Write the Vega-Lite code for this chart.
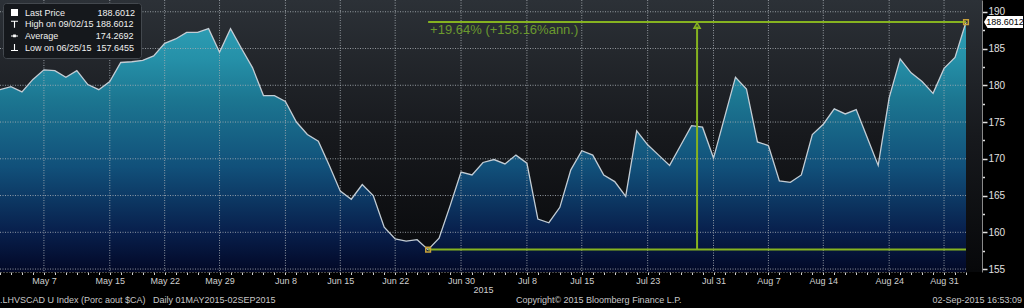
{
  "$schema": "https://vega.github.io/schema/vega-lite/v6.json",
  "width": 982,
  "height": 272,
  "autosize": {"type": "none"},
  "padding": {"left": 0, "top": 0, "right": 42, "bottom": 36},
  "background": "#000000",
  "config": {
    "view": {"stroke": null},
    "font": "Liberation Sans",
    "axisX": {
      "titleColor": "#cfcfcf", "titleFontSize": 9, "titleFontWeight": "normal", "titlePadding": 0,
      "labelAngle": 0, "labelColor": "#cfcfcf", "labelFontSize": 9, "labelPadding": 2,
      "labelOverlap": false, "labelBound": false,
      "tickSize": 2.5, "tickColor": "#d0d0d0",
      "domainColor": "#8a8a8a", "domainDash": [1, 2],
      "zindex": 1
    },
    "axisY": {
      "labelColor": "#e0e0e0", "labelFontSize": 10, "labelPadding": 1,
      "labelOverlap": false, "labelBound": false,
      "tickColor": "#e0e0e0", "tickWidth": 1.5,
      "domainColor": "#8a8a8a",
      "zindex": 1
    }
  },
  "datasets": {
    "px": [
      {"date": "2015-05-01", "price": 179.4},
      {"date": "2015-05-04", "price": 179.8},
      {"date": "2015-05-05", "price": 179.1},
      {"date": "2015-05-06", "price": 180.8},
      {"date": "2015-05-07", "price": 182.1},
      {"date": "2015-05-08", "price": 182.0},
      {"date": "2015-05-11", "price": 181.1},
      {"date": "2015-05-12", "price": 182.0},
      {"date": "2015-05-13", "price": 180.1},
      {"date": "2015-05-14", "price": 179.4},
      {"date": "2015-05-15", "price": 180.5},
      {"date": "2015-05-18", "price": 183.1},
      {"date": "2015-05-19", "price": 183.2},
      {"date": "2015-05-20", "price": 183.4},
      {"date": "2015-05-21", "price": 184.0},
      {"date": "2015-05-22", "price": 185.7},
      {"date": "2015-05-25", "price": 186.3},
      {"date": "2015-05-26", "price": 187.2},
      {"date": "2015-05-27", "price": 187.2},
      {"date": "2015-05-28", "price": 187.7},
      {"date": "2015-05-29", "price": 184.5},
      {"date": "2015-06-01", "price": 187.7},
      {"date": "2015-06-02", "price": 185.0},
      {"date": "2015-06-03", "price": 182.4},
      {"date": "2015-06-04", "price": 178.6},
      {"date": "2015-06-05", "price": 178.6},
      {"date": "2015-06-08", "price": 177.8},
      {"date": "2015-06-09", "price": 175.0},
      {"date": "2015-06-10", "price": 173.3},
      {"date": "2015-06-11", "price": 172.4},
      {"date": "2015-06-12", "price": 169.1},
      {"date": "2015-06-15", "price": 165.6},
      {"date": "2015-06-16", "price": 164.5},
      {"date": "2015-06-17", "price": 166.5},
      {"date": "2015-06-18", "price": 165.0},
      {"date": "2015-06-19", "price": 160.7},
      {"date": "2015-06-22", "price": 159.1},
      {"date": "2015-06-23", "price": 158.8},
      {"date": "2015-06-24", "price": 159.0},
      {"date": "2015-06-25", "price": 157.6455},
      {"date": "2015-06-26", "price": 159.2},
      {"date": "2015-06-29", "price": 163.6},
      {"date": "2015-06-30", "price": 168.2},
      {"date": "2015-07-01", "price": 167.8},
      {"date": "2015-07-02", "price": 169.5},
      {"date": "2015-07-03", "price": 169.9},
      {"date": "2015-07-06", "price": 169.3},
      {"date": "2015-07-07", "price": 170.5},
      {"date": "2015-07-08", "price": 169.4},
      {"date": "2015-07-09", "price": 161.8},
      {"date": "2015-07-10", "price": 161.3},
      {"date": "2015-07-13", "price": 163.4},
      {"date": "2015-07-14", "price": 168.5},
      {"date": "2015-07-15", "price": 171.1},
      {"date": "2015-07-16", "price": 170.5},
      {"date": "2015-07-17", "price": 167.8},
      {"date": "2015-07-20", "price": 166.9},
      {"date": "2015-07-21", "price": 164.9},
      {"date": "2015-07-22", "price": 173.8},
      {"date": "2015-07-23", "price": 171.9},
      {"date": "2015-07-24", "price": 170.5},
      {"date": "2015-07-27", "price": 169.1},
      {"date": "2015-07-28", "price": 171.8},
      {"date": "2015-07-29", "price": 174.5},
      {"date": "2015-07-30", "price": 174.3},
      {"date": "2015-07-31", "price": 170.1},
      {"date": "2015-08-03", "price": 175.6},
      {"date": "2015-08-04", "price": 181.1},
      {"date": "2015-08-05", "price": 179.5},
      {"date": "2015-08-06", "price": 172.3},
      {"date": "2015-08-07", "price": 171.8},
      {"date": "2015-08-10", "price": 167.0},
      {"date": "2015-08-11", "price": 166.8},
      {"date": "2015-08-12", "price": 167.8},
      {"date": "2015-08-13", "price": 173.3},
      {"date": "2015-08-14", "price": 174.7},
      {"date": "2015-08-17", "price": 176.8},
      {"date": "2015-08-18", "price": 176.1},
      {"date": "2015-08-19", "price": 176.7},
      {"date": "2015-08-20", "price": 172.9},
      {"date": "2015-08-21", "price": 169.1},
      {"date": "2015-08-24", "price": 178.3},
      {"date": "2015-08-25", "price": 183.6},
      {"date": "2015-08-26", "price": 181.7},
      {"date": "2015-08-27", "price": 180.5},
      {"date": "2015-08-28", "price": 178.9},
      {"date": "2015-08-31", "price": 182.3},
      {"date": "2015-09-01", "price": 183.8},
      {"date": "2015-09-02", "price": 188.6012}
    ],
    "stats": [
      {"stat": "Last Price\u00a0\u00a0\u00a0\u00a0\u00a0\u00a0\u00a0\u00a0\u00a0\u00a0\u00a0\u00a0\u00a0188.6012"},
      {"stat": "High on 09/02/15\u00a0188.6012"},
      {"stat": "Average\u00a0\u00a0\u00a0\u00a0\u00a0\u00a0\u00a0\u00a0\u00a0\u00a0\u00a0\u00a0\u00a0\u00a0\u00a0174.2692"},
      {"stat": "Low on 06/25/15\u00a0\u00a0157.6455"}
    ],
    "xgrid": [
      {"date": "2015-05-07"}, {"date": "2015-05-15"}, {"date": "2015-05-22"}, {"date": "2015-05-29"},
      {"date": "2015-06-08"}, {"date": "2015-06-15"}, {"date": "2015-06-22"}, {"date": "2015-06-30"},
      {"date": "2015-07-08"}, {"date": "2015-07-15"}, {"date": "2015-07-23"}, {"date": "2015-07-31"},
      {"date": "2015-08-07"}, {"date": "2015-08-14"}, {"date": "2015-08-24"}, {"date": "2015-08-31"}
    ],
    "ygrid": [
      {"price": 155}, {"price": 160}, {"price": 165}, {"price": 170},
      {"price": 175}, {"price": 180}, {"price": 185}, {"price": 190}
    ],
    "levels": [
      {"date": "2015-06-25", "end": "2015-09-02", "price": 188.6012},
      {"date": "2015-06-25", "end": "2015-09-02", "price": 157.6455}
    ],
    "marks": [
      {"date": "2015-06-25", "price": 157.6455},
      {"date": "2015-09-02", "price": 188.6012}
    ],
    "last": [
      {"date": "2015-09-02", "price": 188.6012}
    ]
  },
  "layer": [
    {
      "data": {"values": [{}]},
      "mark": {
        "type": "rect",
        "fill": {
          "gradient": "linear", "x1": 0, "y1": 0, "x2": 0, "y2": 1,
          "stops": [
            {"offset": 0, "color": "#2c3137"},
            {"offset": 0.5, "color": "#17191d"},
            {"offset": 1, "color": "#07080a"}
          ]
        }
      },
      "encoding": {}
    },
    {
      "data": {"name": "px"},
      "mark": {
        "type": "area",
        "fill": {
          "gradient": "linear", "x1": 0, "y1": 0, "x2": 0, "y2": 1,
          "stops": [
            {"offset": 0, "color": "#2e9fb5"},
            {"offset": 0.15, "color": "#2590a8"},
            {"offset": 0.31, "color": "#1c7691"},
            {"offset": 0.58, "color": "#11507a"},
            {"offset": 0.84, "color": "#081f4c"},
            {"offset": 1, "color": "#020826"}
          ]
        }
      },
      "encoding": {
        "x": {
          "field": "date", "type": "ordinal",
          "scale": {"type": "point", "range": [0, 966], "padding": 0},
          "axis": {"title": "2015", "titleX": 483, "grid": false, "labelExpr": "indexof(['2015-05-07','2015-05-15','2015-05-22','2015-05-29','2015-06-08','2015-06-15','2015-06-22','2015-06-30','2015-07-08','2015-07-15','2015-07-23','2015-07-31','2015-08-07','2015-08-14','2015-08-24','2015-08-31'], datum.value) >= 0 ? utcFormat(toDate(datum.value), '%b %-d') : ''"}
        },
        "y": {
          "field": "price", "type": "quantitative",
          "scale": {"domain": [154.6, 191.6], "zero": false, "nice": false},
          "axis": {"orient": "right", "title": null, "grid": false, "values": [155, 157.5, 160, 162.5, 165, 167.5, 170, 172.5, 175, 177.5, 180, 182.5, 185, 187.5, 190], "labelExpr": "datum.value % 5 === 0 ? format(datum.value, 'd') : ''", "tickSize": {"condition": {"test": "datum.value % 5 === 0", "value": 5}, "value": 2.5}}
        },
        "y2": {"datum": 154.6}
      }
    },
    {
      "data": {"name": "xgrid"},
      "mark": {"type": "rule", "stroke": "#a8aeb4", "strokeOpacity": 0.85, "strokeDash": [1, 1.5], "strokeWidth": 1},
      "encoding": {
        "x": {"field": "date", "type": "ordinal", "axis": {"title": "2015", "titleX": 483, "grid": false, "labelExpr": "indexof(['2015-05-07','2015-05-15','2015-05-22','2015-05-29','2015-06-08','2015-06-15','2015-06-22','2015-06-30','2015-07-08','2015-07-15','2015-07-23','2015-07-31','2015-08-07','2015-08-14','2015-08-24','2015-08-31'], datum.value) >= 0 ? utcFormat(toDate(datum.value), '%b %-d') : ''"}},
        "y": {"datum": 191.6, "type": "quantitative", "axis": {"orient": "right", "title": null, "grid": false, "values": [155, 157.5, 160, 162.5, 165, 167.5, 170, 172.5, 175, 177.5, 180, 182.5, 185, 187.5, 190], "labelExpr": "datum.value % 5 === 0 ? format(datum.value, 'd') : ''", "tickSize": {"condition": {"test": "datum.value % 5 === 0", "value": 5}, "value": 2.5}}},
        "y2": {"datum": 154.6}
      }
    },
    {
      "data": {"name": "ygrid"},
      "mark": {"type": "rule", "stroke": "#a8aeb4", "strokeOpacity": 0.85, "strokeDash": [1, 1.5], "strokeWidth": 1},
      "encoding": {
        "x": {"datum": "2015-05-01", "type": "ordinal", "axis": {"title": "2015", "titleX": 483, "grid": false, "labelExpr": "indexof(['2015-05-07','2015-05-15','2015-05-22','2015-05-29','2015-06-08','2015-06-15','2015-06-22','2015-06-30','2015-07-08','2015-07-15','2015-07-23','2015-07-31','2015-08-07','2015-08-14','2015-08-24','2015-08-31'], datum.value) >= 0 ? utcFormat(toDate(datum.value), '%b %-d') : ''"}},
        "x2": {"datum": "2015-09-02"},
        "y": {"field": "price", "type": "quantitative", "axis": {"orient": "right", "title": null, "grid": false, "values": [155, 157.5, 160, 162.5, 165, 167.5, 170, 172.5, 175, 177.5, 180, 182.5, 185, 187.5, 190], "labelExpr": "datum.value % 5 === 0 ? format(datum.value, 'd') : ''", "tickSize": {"condition": {"test": "datum.value % 5 === 0", "value": 5}, "value": 2.5}}}
      }
    },
    {
      "data": {"name": "px"},
      "mark": {"type": "line", "stroke": "#c3cdd5", "strokeWidth": 1.3},
      "encoding": {
        "x": {"field": "date", "type": "ordinal", "axis": {"title": "2015", "titleX": 483, "grid": false, "labelExpr": "indexof(['2015-05-07','2015-05-15','2015-05-22','2015-05-29','2015-06-08','2015-06-15','2015-06-22','2015-06-30','2015-07-08','2015-07-15','2015-07-23','2015-07-31','2015-08-07','2015-08-14','2015-08-24','2015-08-31'], datum.value) >= 0 ? utcFormat(toDate(datum.value), '%b %-d') : ''"}},
        "y": {"field": "price", "type": "quantitative", "axis": {"orient": "right", "title": null, "grid": false, "values": [155, 157.5, 160, 162.5, 165, 167.5, 170, 172.5, 175, 177.5, 180, 182.5, 185, 187.5, 190], "labelExpr": "datum.value % 5 === 0 ? format(datum.value, 'd') : ''", "tickSize": {"condition": {"test": "datum.value % 5 === 0", "value": 5}, "value": 2.5}}}
      }
    },
    {
      "data": {"name": "levels"},
      "mark": {"type": "rule", "stroke": "#86b320", "strokeWidth": 2},
      "encoding": {
        "x": {"field": "date", "type": "ordinal", "axis": {"title": "2015", "titleX": 483, "grid": false, "labelExpr": "indexof(['2015-05-07','2015-05-15','2015-05-22','2015-05-29','2015-06-08','2015-06-15','2015-06-22','2015-06-30','2015-07-08','2015-07-15','2015-07-23','2015-07-31','2015-08-07','2015-08-14','2015-08-24','2015-08-31'], datum.value) >= 0 ? utcFormat(toDate(datum.value), '%b %-d') : ''"}},
        "x2": {"field": "end"},
        "y": {"field": "price", "type": "quantitative", "axis": {"orient": "right", "title": null, "grid": false, "values": [155, 157.5, 160, 162.5, 165, 167.5, 170, 172.5, 175, 177.5, 180, 182.5, 185, 187.5, 190], "labelExpr": "datum.value % 5 === 0 ? format(datum.value, 'd') : ''", "tickSize": {"condition": {"test": "datum.value % 5 === 0", "value": 5}, "value": 2.5}}}
      }
    },
    {
      "data": {"values": [{}]},
      "mark": {"type": "rule", "stroke": "#86b320", "strokeWidth": 2, "xOffset": 5.5},
      "encoding": {
        "x": {"datum": "2015-07-29", "type": "ordinal", "axis": {"title": "2015", "titleX": 483, "grid": false, "labelExpr": "indexof(['2015-05-07','2015-05-15','2015-05-22','2015-05-29','2015-06-08','2015-06-15','2015-06-22','2015-06-30','2015-07-08','2015-07-15','2015-07-23','2015-07-31','2015-08-07','2015-08-14','2015-08-24','2015-08-31'], datum.value) >= 0 ? utcFormat(toDate(datum.value), '%b %-d') : ''"}},
        "y": {"datum": 157.6455, "type": "quantitative", "axis": {"orient": "right", "title": null, "grid": false, "values": [155, 157.5, 160, 162.5, 165, 167.5, 170, 172.5, 175, 177.5, 180, 182.5, 185, 187.5, 190], "labelExpr": "datum.value % 5 === 0 ? format(datum.value, 'd') : ''", "tickSize": {"condition": {"test": "datum.value % 5 === 0", "value": 5}, "value": 2.5}}},
        "y2": {"datum": 188.0}
      }
    },
    {
      "data": {"values": [{}]},
      "mark": {"type": "point", "shape": "triangle-up", "filled": false, "stroke": "#86b320", "strokeWidth": 1.6, "size": 36, "xOffset": 5.5, "opacity": 1},
      "encoding": {
        "x": {"datum": "2015-07-29", "type": "ordinal", "axis": {"title": "2015", "titleX": 483, "grid": false, "labelExpr": "indexof(['2015-05-07','2015-05-15','2015-05-22','2015-05-29','2015-06-08','2015-06-15','2015-06-22','2015-06-30','2015-07-08','2015-07-15','2015-07-23','2015-07-31','2015-08-07','2015-08-14','2015-08-24','2015-08-31'], datum.value) >= 0 ? utcFormat(toDate(datum.value), '%b %-d') : ''"}},
        "y": {"datum": 188.13, "type": "quantitative", "axis": {"orient": "right", "title": null, "grid": false, "values": [155, 157.5, 160, 162.5, 165, 167.5, 170, 172.5, 175, 177.5, 180, 182.5, 185, 187.5, 190], "labelExpr": "datum.value % 5 === 0 ? format(datum.value, 'd') : ''", "tickSize": {"condition": {"test": "datum.value % 5 === 0", "value": 5}, "value": 2.5}}}
      }
    },
    {
      "data": {"name": "marks"},
      "mark": {"type": "point", "shape": "square", "filled": false, "stroke": "#c9a23b", "strokeWidth": 1.5, "size": 22, "opacity": 1},
      "encoding": {
        "x": {"field": "date", "type": "ordinal", "axis": {"title": "2015", "titleX": 483, "grid": false, "labelExpr": "indexof(['2015-05-07','2015-05-15','2015-05-22','2015-05-29','2015-06-08','2015-06-15','2015-06-22','2015-06-30','2015-07-08','2015-07-15','2015-07-23','2015-07-31','2015-08-07','2015-08-14','2015-08-24','2015-08-31'], datum.value) >= 0 ? utcFormat(toDate(datum.value), '%b %-d') : ''"}},
        "y": {"field": "price", "type": "quantitative", "axis": {"orient": "right", "title": null, "grid": false, "values": [155, 157.5, 160, 162.5, 165, 167.5, 170, 172.5, 175, 177.5, 180, 182.5, 185, 187.5, 190], "labelExpr": "datum.value % 5 === 0 ? format(datum.value, 'd') : ''", "tickSize": {"condition": {"test": "datum.value % 5 === 0", "value": 5}, "value": 2.5}}}
      }
    },
    {
      "data": {"values": [{}]},
      "mark": {"type": "text", "text": "+19.64% (+158.16%ann.)", "align": "left", "baseline": "middle", "dx": 2, "fontSize": 13, "color": "#6b9a2e"},
      "encoding": {
        "x": {"datum": "2015-06-25", "type": "ordinal", "axis": {"title": "2015", "titleX": 483, "grid": false, "labelExpr": "indexof(['2015-05-07','2015-05-15','2015-05-22','2015-05-29','2015-06-08','2015-06-15','2015-06-22','2015-06-30','2015-07-08','2015-07-15','2015-07-23','2015-07-31','2015-08-07','2015-08-14','2015-08-24','2015-08-31'], datum.value) >= 0 ? utcFormat(toDate(datum.value), '%b %-d') : ''"}},
        "y": {"datum": 187.5, "type": "quantitative", "axis": {"orient": "right", "title": null, "grid": false, "values": [155, 157.5, 160, 162.5, 165, 167.5, 170, 172.5, 175, 177.5, 180, 182.5, 185, 187.5, 190], "labelExpr": "datum.value % 5 === 0 ? format(datum.value, 'd') : ''", "tickSize": {"condition": {"test": "datum.value % 5 === 0", "value": 5}, "value": 2.5}}}
      }
    },
    {
      "data": {"name": "last"},
      "mark": {"type": "point", "shape": "M-1,0L-0.82,-0.31H1V0.31H-0.82Z", "filled": true, "fill": "#ffffff", "size": 1521, "xOffset": 37.5, "opacity": 1},
      "encoding": {
        "x": {"field": "date", "type": "ordinal", "axis": {"title": "2015", "titleX": 483, "grid": false, "labelExpr": "indexof(['2015-05-07','2015-05-15','2015-05-22','2015-05-29','2015-06-08','2015-06-15','2015-06-22','2015-06-30','2015-07-08','2015-07-15','2015-07-23','2015-07-31','2015-08-07','2015-08-14','2015-08-24','2015-08-31'], datum.value) >= 0 ? utcFormat(toDate(datum.value), '%b %-d') : ''"}},
        "y": {"field": "price", "type": "quantitative", "axis": {"orient": "right", "title": null, "grid": false, "values": [155, 157.5, 160, 162.5, 165, 167.5, 170, 172.5, 175, 177.5, 180, 182.5, 185, 187.5, 190], "labelExpr": "datum.value % 5 === 0 ? format(datum.value, 'd') : ''", "tickSize": {"condition": {"test": "datum.value % 5 === 0", "value": 5}, "value": 2.5}}}
      }
    },
    {
      "data": {"name": "last"},
      "mark": {"type": "text", "align": "center", "baseline": "middle", "xOffset": 39, "fontSize": 9, "color": "#000000"},
      "encoding": {
        "x": {"field": "date", "type": "ordinal", "axis": {"title": "2015", "titleX": 483, "grid": false, "labelExpr": "indexof(['2015-05-07','2015-05-15','2015-05-22','2015-05-29','2015-06-08','2015-06-15','2015-06-22','2015-06-30','2015-07-08','2015-07-15','2015-07-23','2015-07-31','2015-08-07','2015-08-14','2015-08-24','2015-08-31'], datum.value) >= 0 ? utcFormat(toDate(datum.value), '%b %-d') : ''"}},
        "y": {"field": "price", "type": "quantitative", "axis": {"orient": "right", "title": null, "grid": false, "values": [155, 157.5, 160, 162.5, 165, 167.5, 170, 172.5, 175, 177.5, 180, 182.5, 185, 187.5, 190], "labelExpr": "datum.value % 5 === 0 ? format(datum.value, 'd') : ''", "tickSize": {"condition": {"test": "datum.value % 5 === 0", "value": 5}, "value": 2.5}}},
        "text": {"field": "price", "type": "quantitative", "format": ".4f"}
      }
    },
    {
      "data": {"values": [{"date": "2015-05-01", "t": ".LHVSCAD U Index (Porc aout $CA)\u00a0\u00a0\u00a0Daily 01MAY2015-02SEP2015"}, {"date": "2015-07-07", "t": "Copyright\u00a9 2015 Bloomberg Finance L.P."}]},
      "mark": {"type": "text", "align": "left", "baseline": "middle", "fontSize": 9, "color": "#c8c8c8"},
      "encoding": {
        "x": {"field": "date", "type": "ordinal", "axis": {"title": "2015", "titleX": 483, "grid": false, "labelExpr": "indexof(['2015-05-07','2015-05-15','2015-05-22','2015-05-29','2015-06-08','2015-06-15','2015-06-22','2015-06-30','2015-07-08','2015-07-15','2015-07-23','2015-07-31','2015-08-07','2015-08-14','2015-08-24','2015-08-31'], datum.value) >= 0 ? utcFormat(toDate(datum.value), '%b %-d') : ''"}},
        "y": {"datum": 150.8, "type": "quantitative", "axis": {"orient": "right", "title": null, "grid": false, "values": [155, 157.5, 160, 162.5, 165, 167.5, 170, 172.5, 175, 177.5, 180, 182.5, 185, 187.5, 190], "labelExpr": "datum.value % 5 === 0 ? format(datum.value, 'd') : ''", "tickSize": {"condition": {"test": "datum.value % 5 === 0", "value": 5}, "value": 2.5}}},
        "text": {"field": "t", "type": "nominal"}
      }
    },
    {
      "data": {"values": [{}]},
      "mark": {"type": "text", "text": "02-Sep-2015 16:53:09", "align": "right", "baseline": "middle", "dx": 56, "fontSize": 9, "color": "#c8c8c8"},
      "encoding": {
        "x": {"datum": "2015-09-02", "type": "ordinal", "axis": {"title": "2015", "titleX": 483, "grid": false, "labelExpr": "indexof(['2015-05-07','2015-05-15','2015-05-22','2015-05-29','2015-06-08','2015-06-15','2015-06-22','2015-06-30','2015-07-08','2015-07-15','2015-07-23','2015-07-31','2015-08-07','2015-08-14','2015-08-24','2015-08-31'], datum.value) >= 0 ? utcFormat(toDate(datum.value), '%b %-d') : ''"}},
        "y": {"datum": 150.8, "type": "quantitative", "axis": {"orient": "right", "title": null, "grid": false, "values": [155, 157.5, 160, 162.5, 165, 167.5, 170, 172.5, 175, 177.5, 180, 182.5, 185, 187.5, 190], "labelExpr": "datum.value % 5 === 0 ? format(datum.value, 'd') : ''", "tickSize": {"condition": {"test": "datum.value % 5 === 0", "value": 5}, "value": 2.5}}}
      }
    },
    {
      "data": {"name": "stats"},
      "mark": {"type": "point", "filled": true, "fill": "#ffffff", "opacity": 0},
      "encoding": {
        "shape": {
          "field": "stat",
          "type": "nominal",
          "sort": null,
          "scale": {"range": [
            "square",
            "M-1,-1H1V-0.72H0.16V1H-0.16V-0.72H-1Z",
            "M-1,-0.15H1V0.15H-1ZM-0.4,-0.4H0.4V0.4H-0.4Z",
            "M-0.16,-1H0.16V0.72H1V1H-1V0.72H-0.16Z"
          ]},
          "legend": {
            "title": null,
            "orient": "top-left",
            "offset": 3,
            "fillColor": "#15181c",
            "strokeColor": "#43484e",
            "cornerRadius": 3,
            "padding": 5,
            "labelFont": "Liberation Sans",
            "labelFontSize": 9,
            "labelColor": "#f0f0f0",
            "labelOffset": 6,
            "labelLimit": 300,
            "symbolSize": 49,
            "symbolOffset": 2,
            "symbolFillColor": "#ffffff",
            "symbolStrokeColor": "#ffffff",
            "symbolStrokeWidth": 0,
            "symbolOpacity": 1,
            "rowPadding": 1.7
          }
        }
      }
    }
  ]
}
